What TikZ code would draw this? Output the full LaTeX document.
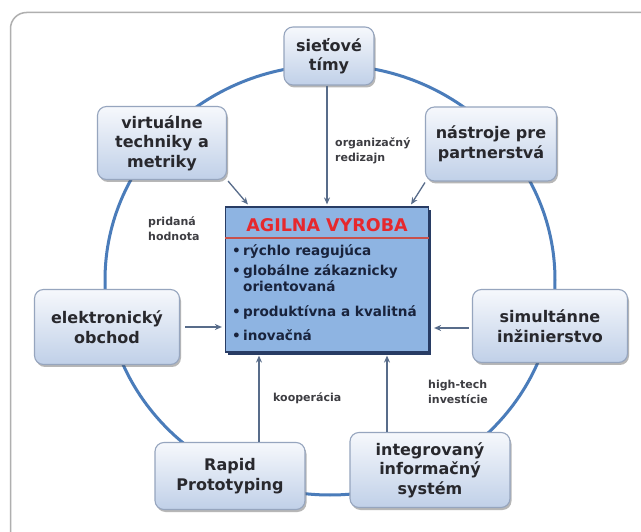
\documentclass[tikz,border=0pt]{standalone}
\usepackage{fontspec}
\setmainfont{DejaVu Sans}
\usetikzlibrary{shadows,arrows.meta}
\definecolor{framegray}{RGB}{175,175,175}
\definecolor{boxtop}{RGB}{246,248,252}
\definecolor{boxbottom}{RGB}{192,208,232}
\definecolor{boxborder}{RGB}{150,165,190}
\definecolor{ring}{RGB}{74,124,186}
\definecolor{arrcol}{RGB}{88,108,138}
\definecolor{txt}{RGB}{40,40,45}
\definecolor{agfill}{RGB}{142,180,226}
\definecolor{agborder}{RGB}{40,60,100}
\definecolor{agtxt}{RGB}{25,35,60}
\definecolor{titlered}{RGB}{230,40,45}
\definecolor{linered}{RGB}{200,80,75}
\begin{document}
\begin{tikzpicture}[x=1pt,y=-1pt,
  box/.style={draw=boxborder, line width=1.1pt, rounded corners=9pt,
    top color=boxtop, bottom color=boxbottom,
    drop shadow={shadow xshift=1.5pt, shadow yshift=-2.5pt, opacity=0.4, fill=black!70},
    align=center, text=txt, inner sep=2pt,
    font=\bfseries\fontsize{16}{19.5}\selectfont},
  agbox/.style={draw=agborder, line width=1.2pt, fill=agfill,
    drop shadow={shadow xshift=2.5pt, shadow yshift=-3pt, opacity=1, fill=agborder}},
  arr/.style={-{Stealth[length=7pt,width=6pt]}, line width=1.3pt, draw=arrcol},
  lab/.style={font=\bfseries\fontsize{11}{15}\selectfont, text=txt!90, anchor=north west, inner sep=0pt, align=left},
  agt/.style={font=\bfseries\fontsize{13.6}{16}\selectfont, text=agtxt, anchor=base west, inner sep=0pt}
]
\useasboundingbox (0,0) rectangle (641,532);
\fill[white] (0,0) rectangle (641,532);
\begin{scope}
  \clip (0,0) rectangle (641,532);
  \draw[framegray, line width=1.5pt, rounded corners=16pt] (10.5,12.5) rectangle (690,570);
\end{scope}

% ring
\draw[ring, line width=3pt] (330,280) ellipse [x radius=225pt, y radius=215pt];

% outer boxes
\node[box, minimum width=90pt, minimum height=58pt] (tim) at (329,56) {sieťové\\tímy};
\node[box, minimum width=129pt, minimum height=73pt] (virt) at (162,143) {virtuálne\\techniky a\\metriky};
\node[box, minimum width=131pt, minimum height=74pt] (part) at (491,144) {nástroje pre\\partnerstvá};
\node[box, minimum width=145pt, minimum height=75pt] (elek) at (107,327) {elektronický\\obchod};
\node[box, minimum width=155pt, minimum height=73pt] (simu) at (550,326) {simultánne\\inžinierstvo};
\node[box, minimum width=150pt, minimum height=67pt] (rapid) at (230,476) {Rapid\\Prototyping};
\node[box, minimum width=160pt, minimum height=75pt] (integ) at (430,470) {integrovaný\\informačný\\systém};

% central box
\node[agbox, minimum width=203pt, minimum height=145pt, inner sep=0pt] (agile) at (327,279.5) {};
\node[font=\bfseries\fontsize{17.5}{20}\selectfont, text=titlered, anchor=base, inner sep=0pt] (title) at (327,231.5) {AGILNA VYROBA};
\draw[linered, line width=1.5pt] (agile.west |- 0,238) -- (agile.east |- 0,238);
\node[agt] (b1) at (232,256) {•};
\node[agt] (t1) at (243,256) {rýchlo reagujúca};
\node[agt] (b2) at (232,276) {•};
\node[agt] (t2) at (243,276) {globálne zákaznicky};
\node[agt] (t2b) at (243,292) {orientovaná};
\node[agt] (b3) at (232,317) {•};
\node[agt] (t3) at (243,317) {produktívna a kvalitná};
\node[agt] (b4) at (232,341) {•};
\node[agt] (t4) at (243,341) {inovačná};

% arrows
\draw[arr, shorten >=2pt] (tim.south -| agile.north) -- (agile.north);
\draw[arr] ([xshift=1pt,yshift=-1pt]virt.south east) -- ([xshift=23pt,yshift=2pt]agile.north west);
\draw[arr] ([xshift=0pt,yshift=-1pt]part.south west) -- ([xshift=-18pt,yshift=2pt]agile.north east);
\draw[arr] ([xshift=5pt]elek.east) -- ([xshift=-3pt]elek.east -| agile.west);
\draw[arr] ([xshift=-3pt,yshift=-2pt]simu.west) -- ([xshift=5pt,yshift=-2pt]simu.west -| agile.east);
\draw[arr, shorten >=3pt] ([xshift=29pt]rapid.north) -- ([xshift=29pt]rapid.north |- agile.south);
\draw[arr, shorten >=3pt] ([xshift=-43pt]integ.north) -- ([xshift=-43pt]integ.north |- agile.south);

% labels
\node[lab] (l1) at (335,138) {organizačný\\redizajn};
\node[lab] (l2) at (148,217) {pridaná\\hodnota};
\node[lab] (l3) at (273,393) {kooperácia};
\node[lab] (l4) at (428,380) {high-tech\\investície};
\end{tikzpicture}
\end{document}
